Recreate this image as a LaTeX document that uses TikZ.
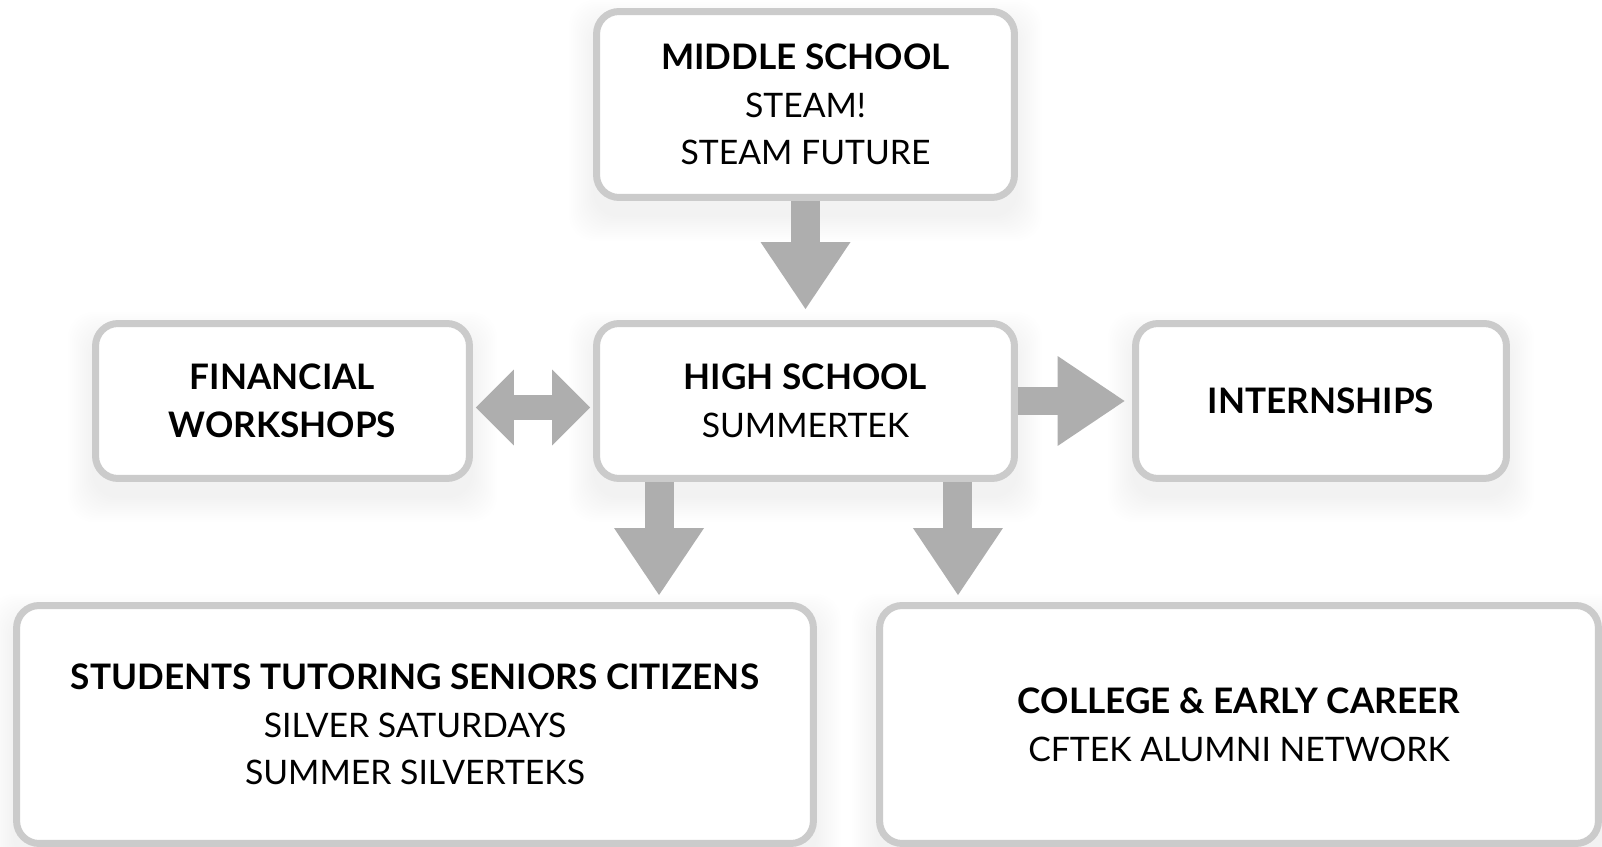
\documentclass[tikz,border=0pt]{standalone}
\usepackage{fontspec}
\setmainfont{Lato}
\usepackage{tikz}
\usetikzlibrary{positioning,arrows.meta,backgrounds}
\definecolor{boxline}{HTML}{CBCBCB}
\definecolor{arrowfill}{HTML}{AEAEAE}
\newcommand{\boxhead}[1]{{\fontsize{20}{27.2}\selectfont\bfseries #1}}

\begin{document}
\begin{tikzpicture}[x=0.02cm,y=-0.02cm,
  box/.style={draw=boxline, fill=white, line width=0.14cm, rounded corners=0.45cm,
    align=center, inner sep=0pt, font=\fontsize{19.2}{27.2}\selectfont},
  bigarrow/.style={draw=arrowfill, line width=0.58cm,
    -{Triangle[width=1.8cm,length=1.34cm,line width=0pt]}},
  twoway/.style={draw=arrowfill, line width=0.5cm,
    {Triangle[width=1.52cm,length=0.76cm,line width=0pt]}-{Triangle[width=1.52cm,length=0.76cm,line width=0pt]}}]
\useasboundingbox (0,0) rectangle (1602,847);

\node[box, minimum width=8.36cm, minimum height=3.72cm] (mid) at (805.5,104.5) {\boxhead{MIDDLE SCHOOL}\\STEAM!\\STEAM FUTURE};
\node[box, minimum width=8.36cm, minimum height=3.10cm] (high) at (805.5,401) {\boxhead{HIGH SCHOOL}\\SUMMERTEK};
\node[box, minimum width=7.48cm, minimum height=3.10cm] (fin) at (282.5,401) {\boxhead{FINANCIAL}\\\boxhead{WORKSHOPS}};
\node[box, minimum width=7.42cm, minimum height=3.10cm] (intern) at (1321,401) {\boxhead{INTERNSHIPS}};
\node[box, minimum width=15.94cm, minimum height=4.76cm] (stud) at (415,724.5) {\boxhead{STUDENTS TUTORING SENIORS CITIZENS}\\SILVER SATURDAYS\\SUMMER SILVERTEKS};
\node[box, minimum width=14.38cm, minimum height=4.76cm] (coll) at (1239,724.5) {\boxhead{COLLEGE \& EARLY CAREER}\\CFTEK ALUMNI NETWORK};

% soft shadows and page
\begin{scope}[on background layer]
\fill[white] (0,0) rectangle (1602,847);
\foreach \b in {mid,high,fin,intern,stud,coll}
  \foreach \s in {0,2,...,24}
    \fill[black, opacity=0.005, rounded corners=0.5cm] ([shift={(-\s,16-\s)}]\b.north west) rectangle ([shift={(\s,16+\s)}]\b.south east);
\end{scope}

\coordinate (leftdrop) at ([xshift=-2.93cm]high.south);
\coordinate (rightdrop) at ([xshift=3.05cm]high.south);

\draw[bigarrow, shorten >=0.22cm] (mid) -- (high);
\draw[bigarrow, shorten >=0.15cm] (high) -- (intern);
\draw[bigarrow, shorten >=0.14cm] (leftdrop) -- (leftdrop |- stud.north);
\draw[bigarrow, shorten >=0.14cm] (rightdrop) -- (rightdrop |- coll.north);
\draw[twoway, shorten <=0.06cm, shorten >=0.06cm] ([yshift=-0.13cm]fin.east) -- ([yshift=-0.13cm]high.west);
\end{tikzpicture}
\end{document}
